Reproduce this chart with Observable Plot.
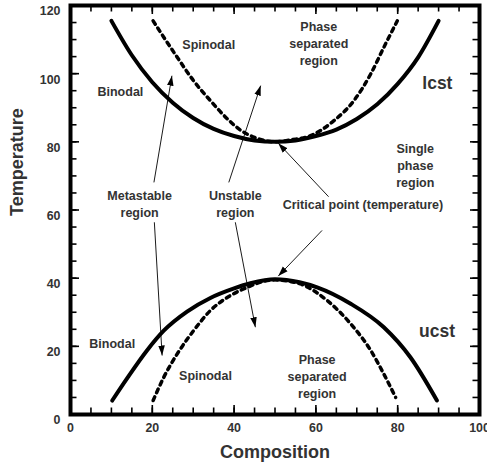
<!DOCTYPE html>
<html><head><meta charset="utf-8">
<script src="https://cdn.jsdelivr.net/npm/d3@7"></script>
<script src="https://cdn.jsdelivr.net/npm/@observablehq/plot@0.6"></script>
<style>
body{margin:0;background:#fff}
#chart svg{display:block}
g[aria-label="axis-title"] text{letter-spacing:0.6px}
</style></head><body><div id="chart"></div>
<script>
// Tick values
const xTicks = [0, 20, 40, 60, 80, 100];
const yTicks = [0, 20, 40, 60, 80, 100, 120];
const xMinor = d3.range(0, 101, 5);
const yMinor = d3.range(0, 121, 5);

// LCST curves
const lcstBinodalX = [10, 15, 20, 25, 30, 35, 40, 45, 50, 55, 60, 65, 70, 75, 80, 85, 90];
const lcstBinodalY = [115.5, 105.4, 97.5, 91.5, 87, 83.8, 81.7, 80.4, 80, 80.4, 81.7, 83.6, 86.7, 91, 97, 104.8, 115.5];
const lcstSpinodalX = [20.2, 22.8, 26.1, 30.1, 34.2, 38.3, 41.6, 45, 50, 54, 58.7, 64.4, 69.3, 73.4, 76.6, 79.9];
const lcstSpinodalY = [115.5, 110.7, 104.8, 97.9, 92.1, 86.8, 83.4, 81.3, 80, 80.6, 81.8, 86.2, 92.1, 99.9, 107.7, 115.5];

// UCST curves
const ucstBinodalX = [10.2, 14, 18.7, 22.8, 28.5, 34.2, 40, 44, 50, 56, 60.3, 68.5, 76.6, 83.1, 89.6];
const ucstBinodalY = [4.1, 10.9, 18.8, 24.6, 30.2, 34.2, 37, 38.5, 39.7, 38.8, 37.3, 32.5, 25.6, 16.8, 4.1];
const ucstSpinodalX = [20.2, 22.8, 26.1, 30.1, 34.2, 39.1, 43.2, 47, 50, 53, 56.2, 62.8, 68.5, 73.4, 76.6, 79.5];
const ucstSpinodalY = [4.1, 10.9, 17.8, 24.6, 30.5, 34.9, 37.3, 39, 39.5, 39.2, 38.3, 33.4, 26.6, 18.8, 11.9, 5];

// Annotation labels
const labelText = ["Spinodal", "Binodal", "Phase\nseparated\nregion", "Single\nphase\nregion", "Metastable\nregion", "Unstable\nregion", "Critical point (temperature)", "Binodal", "Spinodal", "Phase\nseparated\nregion"];
const labelX = [33.8, 12.2, 60.7, 84.3, 16.9, 40.3, 71.5, 10.2, 33, 60.3];
const labelY = [108.8, 95, 109, 73.2, 62, 62, 62, 21.2, 11.7, 11.3];
const bigText = ["lcst", "ucst"];
const bigX = [89.7, 89.6];
const bigY = [97.2, 24.4];

// Arrows (tail -> head)
const arrowX1 = [20.4, 20.5, 38.7, 40.3, 63.1, 61.5];
const arrowY1 = [68.1, 56.4, 68.1, 56.4, 63.9, 54];
const arrowX2 = [24.8, 22.4, 46.5, 45.2, 50.8, 50.8];
const arrowY2 = [99.4, 17.3, 96.5, 25.6, 79.6, 40.6];

const pts = (xs, ys) => xs.map((x, i) => ({x, y: ys[i]}));
const labels = labelText.map((t, i) => ({t, x: labelX[i], y: labelY[i]}));
const bigs = bigText.map((t, i) => ({t, x: bigX[i], y: bigY[i]}));
const arrows = arrowX1.map((x1, i) => ({x1, y1: arrowY1[i], x2: arrowX2[i], y2: arrowY2[i]}));

function filledArrow(color, context) {
  const m = d3.create("svg:marker")
    .attr("viewBox", "-10 -4 10 8")
    .attr("markerUnits", "userSpaceOnUse")
    .attr("markerWidth", 10)
    .attr("markerHeight", 8)
    .attr("refX", 0)
    .attr("refY", 0)
    .attr("orient", "auto")
    .attr("fill", color)
    .attr("stroke", "none");
  m.append("path").attr("d", "M-10,-3.3L0,0L-10,3.3Z");
  return m.node();
}

const W = 487, H = 470, ML = 70, MR = 8, MT = 5, MB = 56;
const innerW = W - ML - MR, innerH = H - MT - MB;
const xDom = [0, 100], yDom = [0, 120];
// tick lengths in pixels converted to data units
const pxX = (xDom[1] - xDom[0]) / innerW, pxY = (yDom[1] - yDom[0]) / innerH;
const minorLen = 6.5, majorLen = 9;
const tk = {stroke: "black", strokeWidth: 1.6};

const tickMarks = (vals, len, axis) => axis === "x" ? [
  Plot.ruleX(vals, {...tk, x: d => d, y1: yDom[0], y2: yDom[0] + len * pxY}),
  Plot.ruleX(vals, {...tk, x: d => d, y1: yDom[1], y2: yDom[1] - len * pxY})
] : [
  Plot.ruleY(vals, {...tk, y: d => d, x1: xDom[0], x2: xDom[0] + len * pxX}),
  Plot.ruleY(vals, {...tk, y: d => d, x1: xDom[1], x2: xDom[1] - len * pxX})
];

const chart = Plot.plot({
  width: W,
  height: H,
  marginLeft: ML,
  marginRight: MR,
  marginTop: MT,
  marginBottom: MB,
  style: {fontFamily: "'Liberation Sans', Arial, sans-serif", fontWeight: "bold", fontSize: "12px", color: "#333", background: "#fff"},
  x: {domain: xDom},
  y: {domain: yDom},
  marks: [
    ...tickMarks(xMinor, minorLen, "x"),
    ...tickMarks(yMinor, minorLen, "y"),
    ...tickMarks(xTicks, majorLen, "x"),
    ...tickMarks(yTicks, majorLen, "y"),
    // tick labels
    Plot.axisX({ticks: xTicks, anchor: "bottom", tickSize: 0, tickPadding: 9, label: null, fill: "#333", fontSize: 12.4}),
    Plot.axisY({ticks: yTicks, anchor: "left", tickSize: 0, tickPadding: 10, dy: 6, label: null, fill: "#333", fontSize: 12.4}),
    Plot.frame({stroke: "black", strokeWidth: 4}),
    // curves
    Plot.line(pts(lcstBinodalX, lcstBinodalY), {x: "x", y: "y", stroke: "black", strokeWidth: 4, curve: "monotone-x"}),
    Plot.line(pts(lcstSpinodalX, lcstSpinodalY), {x: "x", y: "y", stroke: "black", strokeWidth: 3.5, strokeDasharray: "4,4.5", curve: "monotone-x"}),
    Plot.line(pts(ucstBinodalX, ucstBinodalY), {x: "x", y: "y", stroke: "black", strokeWidth: 4, curve: "monotone-x"}),
    Plot.line(pts(ucstSpinodalX, ucstSpinodalY), {x: "x", y: "y", stroke: "black", strokeWidth: 3.5, strokeDasharray: "4,4.5", curve: "monotone-x"}),
    // arrows
    Plot.link(arrows, {x1: "x1", y1: "y1", x2: "x2", y2: "y2", stroke: "black", strokeWidth: 0.9, markerEnd: filledArrow}),
    // labels
    Plot.text(labels, {x: "x", y: "y", text: "t", fill: "#333", fontSize: 12.5, fontWeight: "bold", lineHeight: 1.36}),
    Plot.text(bigs, {x: "x", y: "y", text: "t", fill: "#333", fontSize: 17.5, fontWeight: "bold"}),
    // axis titles
    Plot.text(["Composition"], {frameAnchor: "bottom", dy: 43, fill: "#333", fontSize: 18, fontWeight: "bold", ariaLabel: "axis-title"}),
    Plot.text(["Temperature"], {frameAnchor: "left", dx: -53, dy: 6, rotate: -90, fill: "#333", fontSize: 18, fontWeight: "bold", ariaLabel: "axis-title"})
  ]
});
document.getElementById("chart").appendChild(chart);
</script>
</body></html>
